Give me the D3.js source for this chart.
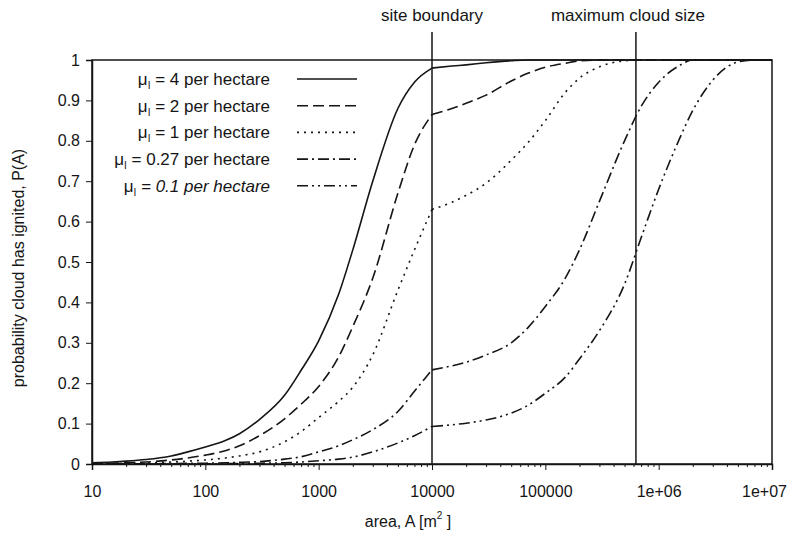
<!DOCTYPE html>
<html>
<head>
<meta charset="utf-8">
<script src="https://cdn.jsdelivr.net/npm/d3@7/dist/d3.min.js"></script>
<style>
  html, body { margin: 0; padding: 0; background: #fff; }
  svg { display: block; font-family: "Liberation Sans", Arial, Helvetica, sans-serif; }
</style>
</head>
<body>
<svg id="chart" width="796" height="536"></svg>
<script>
// ---- data ----
const leftAreas  = [10, 15, 20, 30, 50, 70, 100, 150, 200, 300, 500, 700, 1000, 1500, 2000, 3000, 5000, 7000, 10000];
const rightAreas = [10000, 15000, 20000, 30000, 50000, 70000, 1e5, 1.5e5, 2e5, 3e5, 5e5, 7e5, 1e6, 1.5e6, 2e6, 3e6, 5e6, 7e6, 1e7];

const seriesNames = ["4", "2", "1", "0.27", "0.1"];

const mu4Left   = [0.003, 0.005, 0.007, 0.011, 0.02, 0.03, 0.042, 0.058, 0.075, 0.11, 0.17, 0.232, 0.305, 0.42, 0.53, 0.70, 0.88, 0.945, 0.98];
const mu4Right  = [0.98, 0.985, 0.988, 0.993, 0.998, 1, 1, 1, 1, 1, 1, 1, 1, 1, 1, 1, 1, 1, 1];

const mu2Left   = [0.001, 0.002, 0.003, 0.005, 0.01, 0.015, 0.022, 0.033, 0.045, 0.07, 0.112, 0.148, 0.192, 0.265, 0.34, 0.46, 0.67, 0.79, 0.865];
const mu2Right  = [0.865, 0.88, 0.893, 0.913, 0.948, 0.967, 0.982, 0.992, 0.998, 1, 1, 1, 1, 1, 1, 1, 1, 1, 1];

const mu1Left   = [0.0005, 0.001, 0.0015, 0.0025, 0.005, 0.007, 0.01, 0.015, 0.02, 0.03, 0.055, 0.08, 0.115, 0.155, 0.19, 0.27, 0.43, 0.53, 0.63];
const mu1Right  = [0.63, 0.648, 0.665, 0.695, 0.752, 0.795, 0.85, 0.92, 0.955, 0.983, 0.998, 1, 1, 1, 1, 1, 1, 1, 1];

const mu027Left  = [0.0001, 0.0002, 0.0003, 0.0005, 0.001, 0.0015, 0.002, 0.003, 0.004, 0.006, 0.012, 0.018, 0.03, 0.045, 0.06, 0.085, 0.13, 0.18, 0.233];
const mu027Right = [0.233, 0.243, 0.252, 0.27, 0.30, 0.337, 0.39, 0.46, 0.53, 0.65, 0.80, 0.885, 0.945, 0.985, 1, 1, 1, 1, 1];

const mu01Left   = [0, 0, 0, 0.0001, 0.0002, 0.0003, 0.0005, 0.0008, 0.001, 0.002, 0.003, 0.005, 0.008, 0.012, 0.017, 0.03, 0.052, 0.07, 0.093];
const mu01Right  = [0.093, 0.097, 0.101, 0.109, 0.126, 0.145, 0.175, 0.215, 0.26, 0.33, 0.445, 0.56, 0.68, 0.80, 0.875, 0.95, 0.995, 1, 1];

const xTickValues = [10, 100, 1000, 10000, 100000, 1e6, 1e7];
const xTickLabels = ["10", "100", "1000", "10000", "100000", "1e+06", "1e+07"];
const yTickValues = [0, 0.1, 0.2, 0.3, 0.4, 0.5, 0.6, 0.7, 0.8, 0.9, 1];
const yTickLabels = ["0", "0.1", "0.2", "0.3", "0.4", "0.5", "0.6", "0.7", "0.8", "0.9", "1"];

const siteBoundary = 10000;
const maxCloudSize = 630000;

// ---- styles ----
const dashes = [null, "11,5", "2,5", "11,4,2,4", "11,4,2,4,2,4"];

const series = [
  { name: seriesNames[0], left: mu4Left,   right: mu4Right },
  { name: seriesNames[1], left: mu2Left,   right: mu2Right },
  { name: seriesNames[2], left: mu1Left,   right: mu1Right },
  { name: seriesNames[3], left: mu027Left, right: mu027Right },
  { name: seriesNames[4], left: mu01Left,  right: mu01Right }
];

const svg = d3.select("#chart");
const L = 92, R = 772, T = 60, B = 464;
const ink = "#151515";

const x = d3.scaleLog().domain([10, 1e7]).range([L, R]);
const y = d3.scaleLinear().domain([0, 1]).range([B, T]);

// frame
svg.append("rect").attr("x", L).attr("y", T).attr("width", R - L).attr("height", B - T)
  .attr("fill", "none").attr("stroke", ink).attr("stroke-width", 1.5);

// x axis
const minor = [];
for (let e = 1; e < 7; e++) for (let k = 2; k <= 9; k++) minor.push(k * Math.pow(10, e));
const xAxisMinor = d3.axisBottom(x).tickValues(minor).tickSize(3).tickFormat("");
svg.append("g").attr("transform", `translate(0,${B})`).call(xAxisMinor)
  .call(g => g.select(".domain").remove())
  .call(g => g.selectAll("line").attr("stroke", ink));

const xAxis = d3.axisBottom(x).tickValues(xTickValues).tickSize(6).tickPadding(16)
  .tickFormat((d, i) => xTickLabels[i]);
svg.append("g").attr("transform", `translate(0,${B})`).call(xAxis)
  .call(g => g.select(".domain").attr("stroke", ink).attr("stroke-width", 1.5))
  .call(g => g.selectAll("line").attr("stroke", ink))
  .call(g => g.selectAll("text").attr("font-size", 16).attr("fill", ink)
    .attr("font-family", "'Liberation Sans', Arial, sans-serif")
    .attr("dx", (d, i) => i === xTickValues.length - 1 ? -8 : 0));

// y axis
const yAxis = d3.axisLeft(y).tickValues(yTickValues).tickSize(6).tickPadding(6)
  .tickFormat((d, i) => yTickLabels[i]);
svg.append("g").attr("transform", `translate(${L},0)`).call(yAxis)
  .call(g => g.select(".domain").attr("stroke", ink).attr("stroke-width", 1.5))
  .call(g => g.selectAll("line").attr("stroke", ink))
  .call(g => g.selectAll("text").attr("font-size", 16).attr("fill", ink)
    .attr("font-family", "'Liberation Sans', Arial, sans-serif"));

// vertical reference lines
[[siteBoundary, "site boundary", 0], [maxCloudSize, "maximum cloud size", -8]].forEach(([v, label, dx]) => {
  svg.append("line").attr("x1", x(v)).attr("x2", x(v)).attr("y1", 32).attr("y2", B)
    .attr("stroke", ink).attr("stroke-width", 1.5);
  svg.append("text").attr("x", x(v) + dx).attr("y", 21).attr("text-anchor", "middle")
    .attr("font-size", 17).attr("fill", ink).text(label);
});

// curves
const line = d3.line().x(d => x(d[0])).y(d => y(d[1])).curve(d3.curveMonotoneX);
series.forEach((s, i) => {
  [[leftAreas, s.left], [rightAreas, s.right]].forEach(([areas, vals]) => {
    svg.append("path")
      .attr("d", line(areas.map((a, j) => [a, vals[j]])))
      .attr("fill", "none").attr("stroke", ink).attr("stroke-width", 1.6)
      .attr("stroke-dasharray", dashes[i]);
  });
});

// legend
series.forEach((s, i) => {
  const yy = 79 + i * 26.7;
  const t = svg.append("text").attr("x", 270).attr("y", yy + 6).attr("text-anchor", "end")
    .attr("font-size", 17).attr("fill", ink);
  t.append("tspan").text("μ");
  t.append("tspan").attr("font-size", 10).attr("dy", 4).text("I");
  const rest = t.append("tspan").attr("dy", -4).text(" = " + s.name + " per hectare");
  if (i === 4) rest.attr("font-style", "italic");
  svg.append("line").attr("x1", 297).attr("x2", 357).attr("y1", yy).attr("y2", yy)
    .attr("stroke", ink).attr("stroke-width", 1.6).attr("stroke-dasharray", dashes[i]);
});

// axis titles
const xt = svg.append("text").attr("x", 408).attr("y", 527).attr("text-anchor", "middle")
  .attr("font-size", 16).attr("fill", ink);
xt.append("tspan").text("area, A [m");
xt.append("tspan").attr("font-size", 10).attr("dy", -8).text("2");
xt.append("tspan").attr("dy", 8).text(" ]");

svg.append("text").attr("transform", "translate(24,268) rotate(-90)")
  .attr("text-anchor", "middle").attr("font-size", 16).attr("fill", ink)
  .text("probability cloud has ignited, P(A)");
</script>
</body>
</html>
